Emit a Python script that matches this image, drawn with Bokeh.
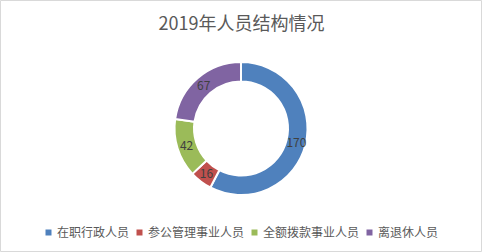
import math
from bokeh.plotting import figure
from bokeh.models import Range1d, ColumnDataSource, Legend, LegendItem, Label
from bokeh.core.properties import value
from bokeh.embed import file_html
from bokeh.resources import INLINE

title = "2019年人员结构情况"
categories = ["在职行政人员", "参公管理事业人员", "全额拨款事业人员", "离退休人员"]
values = [170, 16, 42, 67]
colors = ["#4F81BD", "#C0504D", "#9BBB59", "#8064A2"]

W, H = 482, 252
cx, cy = 240.5, 252 - 128
r_in, r_out, r_lab = 47, 66.5, 57
FONT = "Noto Sans CJK SC"

total = sum(values)
starts, ends, lx, ly = [], [], [], []
cum = 0
for v in values:
    a0 = math.pi / 2 - 2 * math.pi * (cum + v) / total
    a1 = math.pi / 2 - 2 * math.pi * cum / total
    starts.append(a0)
    ends.append(a1)
    mid = (a0 + a1) / 2
    lx.append(cx + r_lab * math.cos(mid))
    ly.append(cy + r_lab * math.sin(mid))
    cum += v

src = ColumnDataSource(dict(start=starts, end=ends, color=colors, cat=categories,
                            lx=lx, ly=ly, lab=[str(v) for v in values]))

p = figure(width=W, height=H, x_range=Range1d(0, W), y_range=Range1d(0, H),
           x_axis_type=None, y_axis_type=None, toolbar_location=None,
           output_backend="svg", min_border=0)
p.grid.visible = False
p.outline_line_color = "#D9D9D9"
p.outline_line_width = 1
p.background_fill_color = "white"
p.border_fill_color = "white"

wedges = p.annular_wedge(x=cx, y=cy, inner_radius=r_in, outer_radius=r_out,
                         start_angle="start", end_angle="end", fill_color="color",
                         line_color="white", line_width=2, source=src)

p.text(x="lx", y="ly", text="lab", source=src, text_align="center",
       text_baseline="middle", text_font=value(FONT), text_font_size="12px",
       text_color="#404040")

p.add_layout(Label(x=W / 2, y=H - 21, x_units="screen", y_units="screen",
                   text=title, text_align="center", text_baseline="middle",
                   text_font=FONT, text_font_size="18px", text_color="#595959"))

items = [LegendItem(label=name, renderers=[wedges], index=i)
         for i, name in enumerate(categories)]

legend = Legend(items=items, orientation="horizontal", location=(43, 12),
                glyph_width=10, glyph_height=10, label_standoff=4, spacing=5,
                padding=0, margin=0, border_line_color=None,
                background_fill_alpha=0, label_text_font=FONT,
                label_text_font_size="12px", label_text_color="#595959")
p.add_layout(legend, "center")

open("out.html", "w").write(file_html(p, INLINE))
